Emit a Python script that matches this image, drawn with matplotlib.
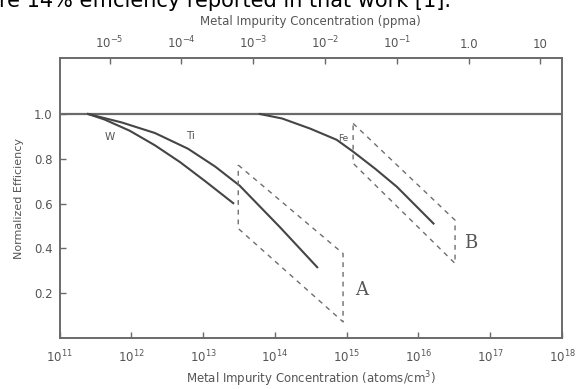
import numpy as np
import matplotlib
matplotlib.use('Agg')
from matplotlib import pyplot as plt

# curves: log10(concentration in atoms/cm3) and normalized efficiency
w_logc = [11.40, 11.63, 11.98, 12.33, 12.68, 13.03, 13.42]
w_eff = [1.0, 0.975, 0.925, 0.86, 0.785, 0.70, 0.602]

ti_logc = [11.40, 11.87, 12.33, 12.79, 13.17, 13.51, 14.07, 14.59]
ti_eff = [1.0, 0.962, 0.915, 0.845, 0.765, 0.68, 0.495, 0.316]

fe_logc = [13.79, 14.10, 14.49, 14.86, 15.09, 15.40, 15.70, 16.21]
fe_eff = [1.0, 0.98, 0.935, 0.885, 0.832, 0.755, 0.675, 0.511]

# dashed regions A and B (corners)
box_a_logc = [13.49, 14.95, 14.95, 13.49, 13.49]
box_a_eff = [0.772, 0.377, 0.072, 0.489, 0.772]
box_b_logc = [15.09, 16.51, 16.51, 15.09, 15.09]
box_b_eff = [0.958, 0.526, 0.333, 0.780, 0.958]

bottom_ticks = [11, 12, 13, 14, 15, 16, 17, 18]
ppma_ticks = [1e-5, 1e-4, 1e-3, 1e-2, 1e-1, 1.0, 10.0]
ppma_labels = ['$10^{-5}$', '$10^{-4}$', '$10^{-3}$', '$10^{-2}$', '$10^{-1}$', '1.0', '10']
atoms_per_ppma = 5e16  # silicon: 5e22 atoms/cm3
y_ticks = [0.2, 0.4, 0.6, 0.8, 1.0]

text_col = '#555555'
line_col = '#454545'
spine_col = '#6a6a6a'

fig = plt.figure(figsize=(5.76, 3.89), dpi=100)
ax = fig.add_axes([0.1033, 0.1311, 0.8724, 0.7198])

ax.axhline(1.0, color=spine_col, linewidth=1.6)

for lc, ef in [(w_logc, w_eff), (ti_logc, ti_eff), (fe_logc, fe_eff)]:
    ax.plot(10 ** np.array(lc), ef, color=line_col, linewidth=1.5)

for lc, ef in [(box_a_logc, box_a_eff), (box_b_logc, box_b_eff)]:
    ax.plot(10 ** np.array(lc), ef, color='#6e6e6e', linewidth=1.0, linestyle=(0, (3.5, 3.5)))

ax.text(10 ** 11.70, 0.899, 'W', color=text_col, fontsize=7.5, ha='center', va='center')
ax.text(10 ** 12.82, 0.90, 'Ti', color=text_col, fontsize=7.5, ha='center', va='center')
ax.text(10 ** 14.95, 0.89, 'Fe', color=text_col, fontsize=6.5, ha='center', va='center')
ax.text(10 ** 15.21, 0.213, 'A', color=text_col, fontsize=13, family='DejaVu Serif',
        ha='center', va='center')
ax.text(10 ** 16.73, 0.423, 'B', color=text_col, fontsize=13, family='DejaVu Serif',
        ha='center', va='center')

ax.set_xscale('log')
ax.set_xlim(1e11, 1e18)
ax.set_ylim(0, 1.25)
ax.set_xticks([10.0 ** t for t in bottom_ticks])
ax.set_xticklabels(['$10^{%d}$' % t for t in bottom_ticks])
ax.xaxis.set_minor_locator(matplotlib.ticker.NullLocator())
ax.set_yticks(y_ticks)
ax.set_yticklabels(['%.1f' % v for v in y_ticks])
ax.tick_params(direction='in', length=4, width=1, colors=spine_col, labelcolor=text_col,
               labelsize=8.5, pad=5)
ax.tick_params(axis='x', pad=8)
ax.set_xlabel('Metal Impurity Concentration (atoms/cm$^3$)', color=text_col, fontsize=8.5,
              labelpad=3)
ax.set_ylabel('Normalized Efficiency', color=text_col, fontsize=8, labelpad=7)

# top axis in ppma
ax2 = ax.twiny()
ax2.set_xscale('log')
ax2.set_xlim(ax.get_xlim())
ax2.set_xticks([p * atoms_per_ppma for p in ppma_ticks])
ax2.set_xticklabels(ppma_labels)
ax2.xaxis.set_minor_locator(matplotlib.ticker.NullLocator())
ax2.tick_params(direction='in', length=4, width=1, colors=spine_col, labelcolor=text_col,
                labelsize=8.5, pad=5)
ax2.set_xlabel('Metal Impurity Concentration (ppma)', color=text_col, fontsize=8.5, labelpad=7)

for a in (ax, ax2):
    for s in a.spines.values():
        s.set_color(spine_col)
        s.set_linewidth(1.2)

# fragment of the caption text above the figure
fig.text(-0.002, 1 - 7 / 389, 're 14% efficiency reported in that work [1].',
         fontsize=15, color='black', va='baseline', ha='left')

fig.savefig('out.png', dpi=100)
